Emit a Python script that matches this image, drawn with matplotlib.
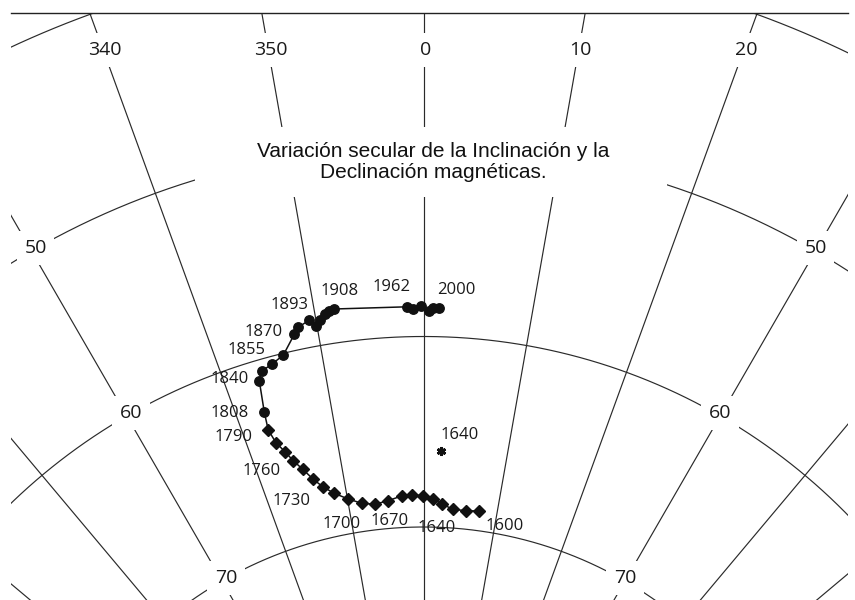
import numpy as np
import matplotlib
matplotlib.use("Agg")
import matplotlib.pyplot as plt
from matplotlib.patches import Rectangle

# ---------------- data (declination in degrees E, inclination in degrees) ----------------
dia_years = [1600, 1610, 1620, 1630, 1640, 1650, 1660, 1670, 1680, 1690,
             1700, 1710, 1720, 1730, 1740, 1750, 1760, 1770, 1780, 1790]
dia_dec = [7.59, 5.79, 3.97, 2.53, 1.22, -0.03, -1.47, -2.88, -4.69, -6.50,
           -8.24, -9.90, -11.58, -12.81, -13.74, -14.69, -15.51, -16.15, -16.84, -17.25]
dia_inc = [68.97, 69.03, 69.02, 68.77, 68.52, 68.36, 68.31, 68.34, 68.54, 68.66,
           68.52, 68.19, 67.75, 67.29, 66.80, 66.15, 65.59, 65.02, 64.43, 63.67]

circ_years = [1808, 1840, 1845, 1850, 1855, 1865, 1870, 1880, 1887, 1893,
              1900, 1905, 1908, 1962, 1970, 1975, 1985, 1990, 2000]
circ_dec = [-17.09, -16.65, -16.14, -15.02, -13.70, -12.24, -11.74, -10.60, -10.09, -9.63,
            -9.09, -8.65, -8.20, -1.54, -1.00, -0.26, 0.54, 0.90, 1.46]
circ_inc = [62.72, 61.08, 60.61, 60.41, 60.09, 59.16, 58.84, 58.58, 58.93, 58.68,
            58.43, 58.29, 58.22, 58.43, 58.55, 58.38, 58.66, 58.48, 58.51]

star_year = 1640
star_dec = 2.09
star_inc = 65.98

label_years = [1600, 1640, 1670, 1700, 1730, 1760, 1790, 1808, 1840, 1855,
               1870, 1893, 1908, 1962, 2000]

dec_ticks = [-20, -10, 0, 10, 20]
dec_tick_labels = ["340", "350", "0", "10", "20"]
inc_ticks = [50, 60, 70]
inc_tick_labels = ["50", "60", "70"]

title = "Variación secular de la Inclinación y la\nDeclinación magnéticas."

# ---------------- projection (pixel units, pole below the figure) ----------------
R70 = 403.0     # radius of the 70 degree circle
K = 19.05       # radius per degree of inclination


def proj(dec, inc):
    d = np.radians(np.asarray(dec, dtype=float))
    r = R70 + K * (70.0 - np.asarray(inc, dtype=float))
    return r * np.sin(d), r * np.cos(d)


# ---------------- figure ----------------
W, H = 855, 600
fig = plt.figure(figsize=(W / 100, H / 100), dpi=100)
x0_px, yc_px = 423.5, 930.0
left_px, right_px, top_px = 11, 848, 12.5
ax = fig.add_axes([left_px / W, 0, (right_px - left_px) / W, (H - top_px) / H])
ax.set_xlim(left_px - x0_px, right_px - x0_px)
ax.set_ylim(yc_px - H, yc_px - top_px)
ax.set_xticks([])
ax.set_yticks([])
for s in ["left", "right", "bottom"]:
    ax.spines[s].set_visible(False)
ax.spines["top"].set_color("#222222")
ax.spines["top"].set_linewidth(1.0)

grid_kw = dict(color="#2a2a2a", lw=0.85, zorder=1, solid_capstyle="butt")
# meridians (declination lines)
for d in range(-60, 61, 10):
    gx, gy = proj([d, d], [90 + R70 / K, 20])
    ax.plot(gx, gy, **grid_kw)
# parallels (inclination circles)
dd = np.linspace(-90, 90, 721)
for inc in [30, 40, 50, 60, 70, 80]:
    gx, gy = proj(dd, np.full_like(dd, inc))
    ax.plot(gx, gy, **grid_kw)

lab_font = ["Open Sans", "DejaVu Sans"]
box = dict(boxstyle="square,pad=0.4", fc="white", ec="none")
# declination labels along a horizontal row
row_y = yc_px - 50
for d, t in zip(dec_ticks, dec_tick_labels):
    ax.text(row_y * np.tan(np.radians(d)) + 2, row_y, t, fontsize=14, family=lab_font,
            color="#1a1a1a", ha="center", va="center", bbox=box, zorder=4)
# inclination labels on the +-30 degree meridians
for inc, t in zip(inc_ticks, inc_tick_labels):
    for d in (-30, 30):
        lx, ly = proj(d, inc)
        ax.text(lx + (4 if d < 0 else 0), ly + 3, t, fontsize=14, family=lab_font,
                color="#1a1a1a", ha="center", va="center", bbox=box, zorder=4)

# title with white background block
ax.add_patch(Rectangle((195 - x0_px, yc_px - 197), 472, 70, fc="white", ec="none", zorder=3))
ax.text(433 - x0_px, yc_px - 162, title, fontsize=15, family=["Liberation Sans", "DejaVu Sans"],
        ha="center", va="center", linespacing=1.15, zorder=4, color="#111111")

# ---------------- data ----------------
all_dec = dia_dec + circ_dec
all_inc = dia_inc + circ_inc
px, py = proj(all_dec, all_inc)
ax.plot(px, py, color="#111111", lw=1.1, zorder=5)
dx_, dy_ = proj(dia_dec, dia_inc)
ax.plot(dx_, dy_, ls="none", marker="D", ms=5.9, color="#111111", zorder=6)
cx_, cy_ = proj(circ_dec, circ_inc)
ax.plot(cx_, cy_, ls="none", marker="o", ms=6.8, color="#111111", zorder=6)
sx, sy = proj(star_dec, star_inc)
ax.plot([sx], [sy], ls="none", marker=(6, 2, 0), ms=6.5, mew=2.0, color="#111111", zorder=6)

# year labels (offsets in pixels)
offsets_px = {1600: (25.7, -15), 1640: (4, -29.3), 1670: (-11.7, -24.7), 1700: (-20, -20.7),
              1730: (-31, -14), 1760: (-31.6, -10), 1790: (-35, -7.3), 1808: (-34.3, -0.4),
              1840: (-29.3, 1.7), 1855: (-37.3, 5), 1870: (-35, -4.4), 1893: (-30.7, 15),
              1908: (6, 18.3), 1962: (-15, 20), 2000: (16.7, 18.3)}
year_all = dia_years + circ_years
for yr in label_years:
    i = year_all.index(yr)
    ox, oy = offsets_px[yr]
    ax.annotate(str(yr), xy=(px[i], py[i]), xytext=(ox * 0.72, oy * 0.72),
                textcoords="offset points", ha="center", va="center",
                fontsize=12, family=lab_font, color="#1a1a1a", zorder=7)
ax.annotate(str(star_year), xy=(sx, sy), xytext=(18.3 * 0.72, 15.7 * 0.72),
            textcoords="offset points", ha="center", va="center",
            fontsize=12, family=lab_font, color="#1a1a1a", zorder=7)

fig.savefig("out.png", dpi=100, facecolor="white")
